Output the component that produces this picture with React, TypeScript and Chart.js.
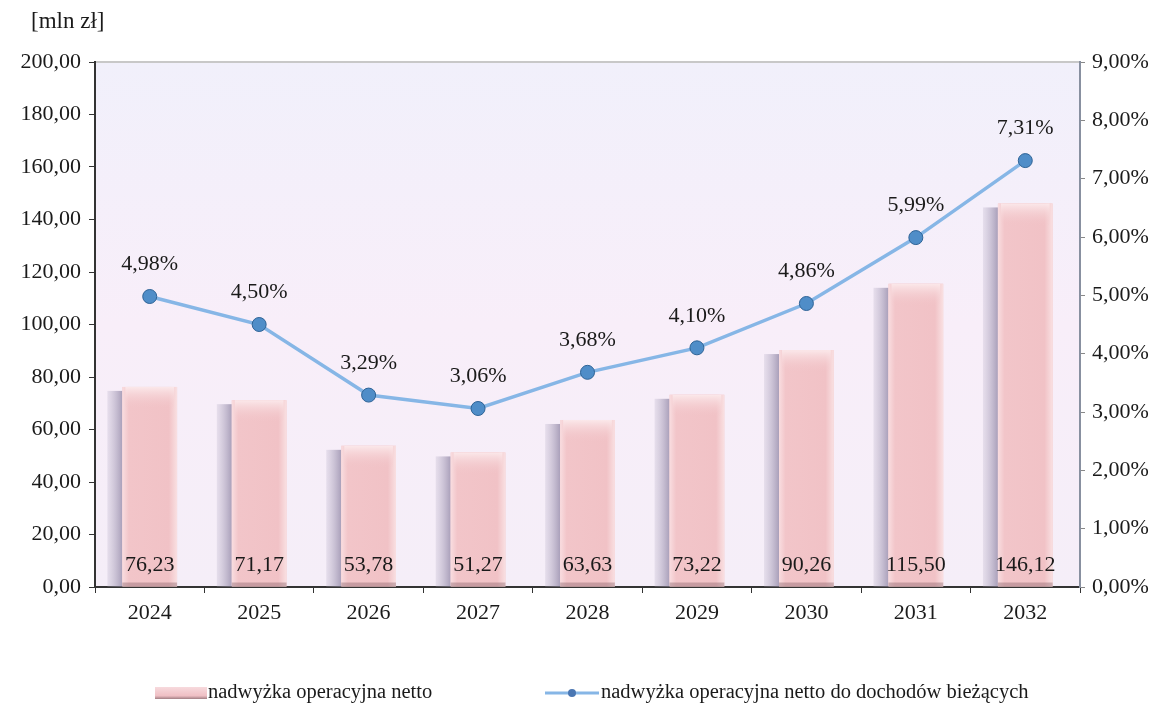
import React, { useEffect, useRef } from "react";
import { Chart, registerables } from "chart.js";

Chart.register(...registerables);

const years = ["2024", "2025", "2026", "2027", "2028", "2029", "2030", "2031", "2032"];
const surplus = [76.23, 71.17, 53.78, 51.27, 63.63, 73.22, 90.26, 115.5, 146.12];
const ratio = [4.98, 4.5, 3.29, 3.06, 3.68, 4.1, 4.86, 5.99, 7.31];
const barLabel = "nadwyżka operacyjna netto";
const lineLabel = "nadwyżka operacyjna netto do dochodów bieżących";
const unitLabel = "[mln zł]";

const FONT = "'Liberation Serif', 'DejaVu Serif', serif";
const fmt = (v: number) => v.toFixed(2).replace(".", ",");

const decorPlugin = {
  id: "decor",
  beforeDraw(chart: any) {
    const { ctx, chartArea: a } = chart;
    ctx.save();
    const g = ctx.createLinearGradient(0, a.top, 0, a.bottom);
    g.addColorStop(0, "#f1f0fb");
    g.addColorStop(0.5, "#f8eef9");
    g.addColorStop(1, "#f5eef8");
    ctx.fillStyle = g;
    ctx.fillRect(a.left, a.top, a.right - a.left, a.bottom - a.top);
    ctx.strokeStyle = "#c8c8c8";
    ctx.lineWidth = 2;
    ctx.beginPath();
    ctx.moveTo(a.left, a.top);
    ctx.lineTo(a.right, a.top);
    ctx.stroke();
    ctx.fillStyle = "#1a1a1a";
    ctx.font = "23px " + FONT;
    ctx.textBaseline = "middle";
    ctx.textAlign = "left";
    ctx.fillText(unitLabel, 31, 22);
    ctx.restore();
  },
  beforeDatasetsDraw(chart: any) {
    const { ctx } = chart;
    const meta = chart.getDatasetMeta(0);
    ctx.save();
    meta.data.forEach((bar: any) => {
      const w = bar.width;
      const x0 = bar.x - w / 2 - 15;
      const top = bar.y + 4;
      const g = ctx.createLinearGradient(x0, 0, x0 + 15, 0);
      g.addColorStop(0, "rgba(200,192,212,0.35)");
      g.addColorStop(1, "rgba(165,155,182,0.95)");
      ctx.fillStyle = g;
      ctx.fillRect(x0, top, 15, bar.base - top);
    });
    ctx.restore();
  },
  afterDatasetDraw(chart: any, args: any) {
    if (args.index !== 0) return;
    const { ctx } = chart;
    const meta = chart.getDatasetMeta(0);
    ctx.save();
    meta.data.forEach((bar: any) => {
      const w = bar.width;
      const l = bar.x - w / 2;
      const g = ctx.createLinearGradient(l, 0, l + w, 0);
      g.addColorStop(0, "#f9dde0");
      g.addColorStop(0.12, "#f2c5c9");
      g.addColorStop(0.85, "#f1c2c6");
      g.addColorStop(1, "#f9e0e2");
      ctx.fillStyle = g;
      ctx.fillRect(l, bar.y, w, bar.base - bar.y);
      const h = ctx.createLinearGradient(0, bar.y, 0, bar.y + 22);
      h.addColorStop(0, "#fbe8ea");
      h.addColorStop(1, "rgba(242,197,201,0)");
      ctx.fillStyle = h;
      ctx.fillRect(l + 3, bar.y, w - 6, 22);
      ctx.fillStyle = "rgba(120,80,90,0.35)";
      ctx.fillRect(l, bar.base - 4, w, 4);
    });
    ctx.restore();
  },
  afterDatasetsDraw(chart: any) {
    const { ctx } = chart;
    ctx.save();
    ctx.fillStyle = "#1a1a1a";
    ctx.font = "22px " + FONT;
    ctx.textAlign = "center";
    ctx.textBaseline = "middle";
    chart.getDatasetMeta(0).data.forEach((bar: any, i: number) => {
      ctx.fillText(fmt(surplus[i]), bar.x, bar.base - 21);
    });
    chart.getDatasetMeta(1).data.forEach((pt: any, i: number) => {
      ctx.fillText(fmt(ratio[i]) + "%", pt.x, pt.y - 32);
    });
    // legend
    ctx.font = "20.5px " + FONT;
    const ly = 693;
    const bx = 155;
    const bg = ctx.createLinearGradient(0, ly - 7, 0, ly + 7);
    bg.addColorStop(0, "#f8dde0");
    bg.addColorStop(0.7, "#efbfc4");
    bg.addColorStop(1, "#8a6a70");
    ctx.fillStyle = bg;
    ctx.fillRect(bx, ly - 6, 52, 12);
    ctx.fillStyle = "#1a1a1a";
    ctx.textAlign = "left";
    ctx.fillText(barLabel, bx + 53, ly);
    const lx = 545;
    ctx.strokeStyle = "#86b6e6";
    ctx.lineWidth = 3;
    ctx.beginPath();
    ctx.moveTo(lx, ly);
    ctx.lineTo(lx + 54, ly);
    ctx.stroke();
    ctx.fillStyle = "#4a76b2";
    ctx.beginPath();
    ctx.arc(lx + 27, ly, 4, 0, Math.PI * 2);
    ctx.fill();
    ctx.fillStyle = "#1a1a1a";
    ctx.fillText(lineLabel, lx + 56, ly);
    ctx.restore();
  },
};

export default function App() {
  const ref = useRef<HTMLCanvasElement | null>(null);
  useEffect(() => {
    if (!ref.current) return;
    const chart = new Chart(ref.current, {
      type: "bar",
      data: {
        labels: years,
        datasets: [
          {
            type: "bar",
            label: barLabel,
            data: surplus,
            backgroundColor: "#f1c3c7",
            borderWidth: 0,
            barPercentage: 0.5,
            categoryPercentage: 1,
            yAxisID: "y",
            order: 2,
          },
          {
            type: "line",
            label: lineLabel,
            data: ratio,
            borderColor: "#86b6e6",
            borderWidth: 3.5,
            pointRadius: 7,
            pointBackgroundColor: "#4f8dc8",
            pointBorderColor: "#2e6396",
            pointBorderWidth: 1,
            tension: 0,
            yAxisID: "y1",
            order: 1,
          },
        ],
      },
      options: {
        animation: false,
        responsive: false,
        maintainAspectRatio: false,
        layout: { padding: { top: 62, left: 0, right: 0, bottom: 0 } },
        plugins: { legend: { display: false }, tooltip: { enabled: false } },
        scales: {
          x: {
            offset: true,
            grid: { offset: true, drawOnChartArea: false, drawTicks: true, tickLength: 6, color: "#333" },
            border: { color: "#333", width: 2 },
            ticks: { color: "#1a1a1a", font: { family: FONT, size: 22 }, padding: 7 },
            afterFit: (s: any) => { s.height = 706 - 587; },
          },
          y: {
            position: "left",
            min: 0,
            max: 200,
            grid: { drawOnChartArea: false, drawTicks: true, tickLength: 6, color: "#333" },
            border: { color: "#333", width: 2 },
            ticks: {
              stepSize: 20,
              color: "#1a1a1a",
              font: { family: FONT, size: 22 },
              padding: 8,
              callback: (v: any) => fmt(Number(v)),
            },
            afterFit: (s: any) => { s.width = 95; },
          },
          y1: {
            position: "right",
            min: 0,
            max: 9,
            grid: { drawOnChartArea: false, drawTicks: true, tickLength: 5, color: "#888" },
            border: { color: "#8890a0", width: 2 },
            ticks: {
              stepSize: 1,
              color: "#1a1a1a",
              font: { family: FONT, size: 22 },
              padding: 7,
              callback: (v: any) => fmt(Number(v)) + "%",
            },
            afterFit: (s: any) => { s.width = 1167 - 1080; },
          },
        },
      },
      plugins: [decorPlugin],
    } as any);
    return () => chart.destroy();
  }, []);
  return (
    <div style={{ position: "fixed", left: 0, top: 0, width: 1167, height: 706, background: "#fff" }}>
      <canvas ref={ref} width={1167} height={706} />
    </div>
  );
}
